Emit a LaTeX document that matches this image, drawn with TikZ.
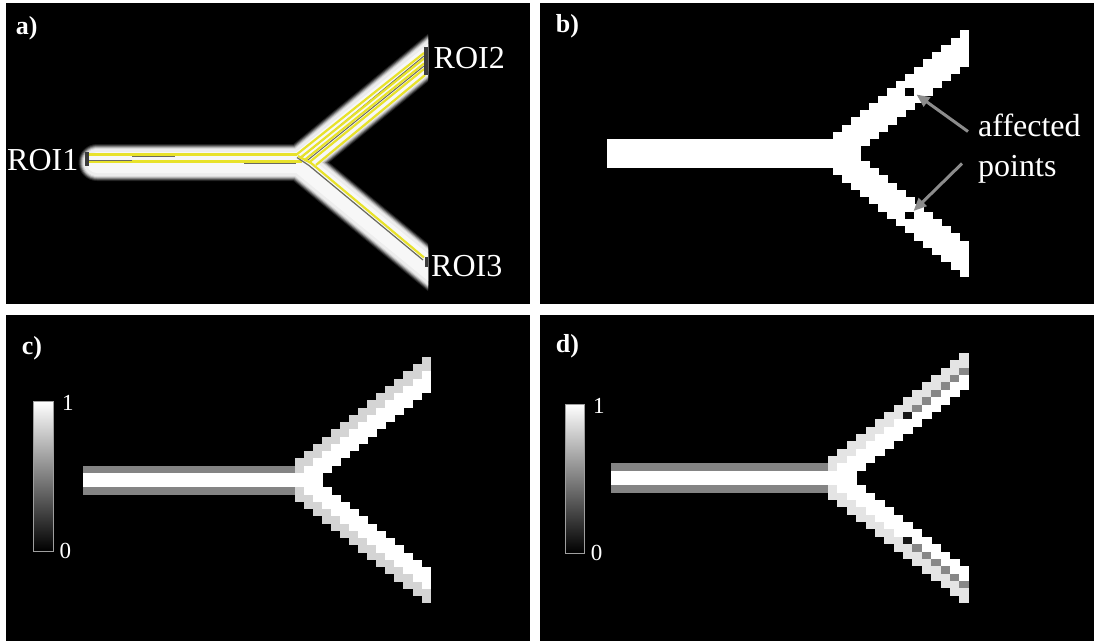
\documentclass[tikz,border=0pt]{standalone}
\usepackage{fontspec}
\setmainfont{Liberation Serif}
\usetikzlibrary{arrows.meta}
\definecolor{fibreyellow}{RGB}{232,226,42}
\definecolor{fibreedge}{RGB}{105,105,95}
\definecolor{barrim}{RGB}{132,132,132}
\definecolor{rimc}{RGB}{212,212,212}
\definecolor{rimd}{RGB}{228,228,228}
\definecolor{checker}{RGB}{135,135,135}
\definecolor{lost}{RGB}{22,22,22}
\definecolor{pointer}{RGB}{140,140,140}
\definecolor{roimark}{RGB}{60,60,60}

% voxel columns of the two branches: x of junction, y of centre line, cell width, cell height, colour
\newcommand\ybase[5]{%
  \foreach \k in {0,...,14}{
    \fill[#5] ({#1+\k*#3},{#2-(\k+3)*#4}) rectangle ({#1+(\k+1)*#3+0.4},{#2-(\k-2)*#4});
    \fill[#5] ({#1+\k*#3},{#2+(\k-2)*#4}) rectangle ({#1+(\k+1)*#3+0.4},{#2+(\k+3)*#4});
  }}
% outer two voxels of every branch column
\newcommand\yrim[5]{%
  \foreach \k in {0,...,14}{
    \fill[#5] ({#1+\k*#3},{#2-(\k+3)*#4}) rectangle ({#1+(\k+1)*#3},{#2-(\k+1)*#4});
    \fill[#5] ({#1+\k*#3},{#2+(\k+1)*#4}) rectangle ({#1+(\k+1)*#3},{#2+(\k+3)*#4});
  }}
% single voxel: x of junction, y of centre, width, height, column, row, colour
\newcommand\ycell[7]{%
  \fill[#7] ({#1+(#5)*#3},{#2-(#6+1)*#4}) rectangle ({#1+(#5+1)*#3},{#2-(#6)*#4});}

\begin{document}
\begin{tikzpicture}[x=1pt,y=-1pt,
  panel/.style={fill=black},
  lbl/.style={font=\fontsize{26}{30}\selectfont\bfseries, text=white, inner sep=0pt, anchor=base west},
  roi/.style={font=\fontsize{32}{36}\selectfont, text=white, inner sep=0pt, anchor=base west},
  tick/.style={font=\fontsize{23}{26}\selectfont, text=white, inner sep=0pt, anchor=base west},
  fibre/.style={draw=fibreyellow, line width=2.2pt, line join=round},
  fibreshadow/.style={draw=fibreedge, line width=1pt},
  pointerline/.style={draw=pointer, line width=3pt, -{Triangle[length=13pt,width=11pt]}},
  cbar/.style={draw=gray!75, line width=0.9pt}]

\useasboundingbox (0,0) rectangle (1094,641);
\fill[white] (0,0) rectangle (1094,641);

% four black panels
\fill[panel] (6,3) rectangle (530,304);
\fill[panel] (540,3) rectangle (1094,304);
\fill[panel] (6,315) rectangle (530,641);
\fill[panel] (540,315) rectangle (1094,641);

% ---------- a) continuous tube with fibre tracks ----------
\coordinate (tL) at (97,162.5);
\coordinate (tJ) at (300,162.5);
\coordinate (tU) at (445,43.8);
\coordinate (tD) at (445,281.2);
\begin{scope}
  \clip (0,0) rectangle (428,304);
  \foreach \w/\g in {37/12,35/30,33/50,31/70,29/85,27/93,21/97}{
    \draw[line width=\w pt, color=white!\g!black, line cap=round, line join=miter]
      (tL) -- (tJ) -- (tU) (tJ) -- (tD);
  }
\end{scope}
% tracks in the stem
\draw[fibre] (89,154.5) -- (297,154.5);
\draw[fibre] (89,161.5) -- (302,161.5);
\draw[fibreshadow] (132,156) -- (175,156);
\draw[fibreshadow] (89,160) -- (132,160);
\draw[fibreshadow] (244,163.8) -- (296,163.8);
% tracks in the upper branch
\draw[fibreshadow] (302,157) -- (424,56);
\draw[fibreshadow] (306,161.5) -- (424,66);
\draw[fibre] (296,155) -- (424,53);
\draw[fibre] (300,158) -- (424,58.5);
\draw[fibre] (304,160.5) -- (424,63.5);
\draw[fibre] (309,162.5) -- (424,69);
\draw[fibre] (316,165) -- (425,75);
% track in the lower branch
\draw[draw=fibreedge, line width=1.2pt] (297,157.5) -- (309,165.5) -- (423,260);
\draw[fibre] (298,156) -- (311,163) -- (424,257.5);
% regions of interest
\fill[roimark] (85,151.5) rectangle (88.5,165.5);
\fill[roimark] (424,47) rectangle (427.5,75);
\fill[roimark] (424.5,256.5) rectangle (428,267);
\node[lbl] (lbla) at (15.7,34) {a)};
\node[roi] (roi1) at (7,170) {ROI1};
\node[roi] (roi2) at (433.5,68.3) {ROI2};
\node[roi] (roi3) at (431,276.7) {ROI3};

% ---------- b) binary voxel mask ----------
\fill[white] (607,139) rectangle (833.4,168);
\ybase{833}{153.5}{9.04}{7.25}{white}
\ycell{833}{153.5}{9.04}{7.25}{8}{8}{black}
\ycell{833}{153.5}{9.04}{7.25}{8}{-9}{black}
\node[lbl] (lblb) at (555.7,32.3) {b)};
\node[roi] (aff) at (978,136.7) {affected};
\node[roi] (pts) at (978,176.7) {points};
\coordinate (tailA) at (968,131.5);
\coordinate (tipA) at (916.5,94.5);
\coordinate (tailB) at (962,163.5);
\coordinate (tipB) at (913.5,211);
\draw[pointerline] (tailA) -- (tipA);
\draw[pointerline] (tailB) -- (tipB);

% ---------- c) grey-level voxel map ----------
\fill[barrim] (83,465.5) rectangle (295.4,494.5);
\fill[white] (83,472.75) rectangle (295.4,487.25);
\ybase{295}{480}{9.04}{7.25}{white}
\yrim{295}{480}{9.04}{7.25}{rimc}
\shade[top color=white, bottom color=black] (33.5,401.5) rectangle (53.5,551);
\draw[cbar] (33.5,401.5) rectangle (53.5,551);
\node[lbl] (lblc) at (21.6,354) {c)};
\node[tick] (onec) at (62,410.5) {1};
\node[tick] (zeroc) at (59.5,558) {0};

% ---------- d) grey-level voxel map with lost voxels ----------
\fill[barrim] (611,463.3) rectangle (828.4,492.7);
\fill[white] (611,470.65) rectangle (828.4,485.35);
\ybase{828}{478}{9.38}{7.35}{white}
\yrim{828}{478}{9.38}{7.35}{rimd}
\foreach \k in {9,...,14}{
  \ycell{828}{478}{9.38}{7.35}{\k}{\k}{checker}
  \ycell{828}{478}{9.38}{7.35}{\k}{-\k-1}{checker}
}
\ycell{828}{478}{9.38}{7.35}{8}{8}{lost}
\ycell{828}{478}{9.38}{7.35}{8}{-9}{lost}
\shade[top color=white, bottom color=black] (565,404) rectangle (584.5,553);
\draw[cbar] (565,404) rectangle (584.5,553);
\node[lbl] (lbld) at (555.7,352) {d)};
\node[tick] (oned) at (593,413) {1};
\node[tick] (zerod) at (590.6,560) {0};
\end{tikzpicture}
\end{document}
